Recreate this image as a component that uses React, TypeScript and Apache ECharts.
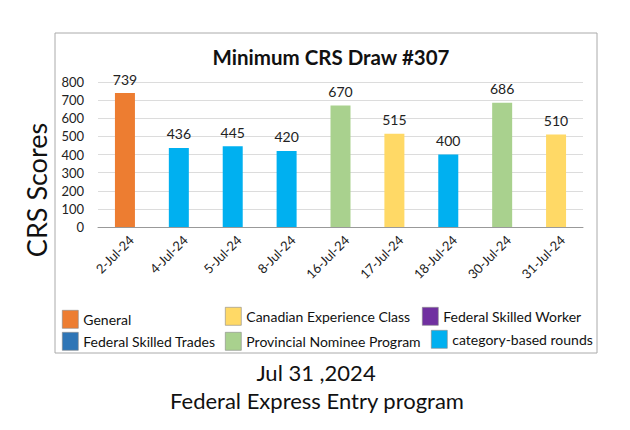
import React, { useEffect, useRef } from "react";
import * as echarts from "echarts";

const categories = ["2-Jul-24", "4-Jul-24", "5-Jul-24", "8-Jul-24", "16-Jul-24", "17-Jul-24", "18-Jul-24", "30-Jul-24", "31-Jul-24"];
const scores = [739, 436, 445, 420, 670, 515, 400, 686, 510];
const drawTypes = ["General", "category-based rounds", "category-based rounds", "category-based rounds", "Provincial Nominee Program", "Canadian Experience Class", "category-based rounds", "Provincial Nominee Program", "Canadian Experience Class"];
const programs = ["General", "Canadian Experience Class", "Federal Skilled Worker", "Federal Skilled Trades", "Provincial Nominee Program", "category-based rounds"];
const programColors = ["#ED7D31", "#FFD966", "#7030A0", "#2E75B6", "#A9D18E", "#00B0F0"];
const yTicks = [0, 100, 200, 300, 400, 500, 600, 700, 800];

const FONT = "Lato, 'Open Sans', sans-serif";

export default function App() {
  const ref = useRef<HTMLDivElement>(null);
  useEffect(() => {
    if (!ref.current) return;
    const chart = echarts.init(ref.current, undefined, { renderer: "svg" });
    const series = programs.map((p, i) => ({
      name: p,
      type: "bar",
      stack: "all",
      barWidth: 20,
      itemStyle: { color: programColors[i] },
      label: {
        show: true,
        position: "top",
        distance: 7,
        color: "#222",
        fontSize: 14,
        fontFamily: FONT,
      },
      data: scores.map((v, k) => (drawTypes[k] === p ? v : "-")),
    }));
    const legendPos = [
      [62, 310],
      [225, 307],
      [422, 307],
      [62, 332],
      [225, 332],
      [431, 330],
    ];
    const legends = programs.map((p, i) => ({
      data: [p],
      left: legendPos[i][0],
      top: legendPos[i][1],
      padding: 0,
      itemWidth: 16,
      itemHeight: 18,
      itemGap: 4,
      icon: "rect",
      selectedMode: false,
      itemStyle: { borderColor: "#888", borderWidth: 0.6 },
      textStyle: { fontSize: 14, color: "#111", fontFamily: FONT, padding: [0, 0, 0, 0] },
    }));
    chart.setOption({
      animation: false,
      backgroundColor: "#fff",
      title: {
        text: "Minimum CRS Draw #307",
        left: 326,
        textAlign: "center",
        top: 41,
        textStyle: { fontSize: 20.5, fontWeight: "bold", color: "#111", fontFamily: FONT },
      },
      legend: legends,
      grid: { left: 98, right: 47, top: 82, bottom: 203 },
      xAxis: {
        type: "category",
        data: categories,
        axisLine: { lineStyle: { color: "#999" } },
        axisTick: { show: false },
        axisLabel: { rotate: 45, fontSize: 13, color: "#222", fontFamily: FONT, margin: 17, padding: [0, -9, 0, 0] },
      },
      yAxis: {
        type: "value",
        min: yTicks[0],
        max: yTicks[yTicks.length - 1],
        interval: 100,
        axisLine: { show: false },
        axisTick: { show: false },
        axisLabel: { fontSize: 13, color: "#222", fontFamily: FONT, margin: 14 },
        splitLine: { lineStyle: { color: "#dcdcdc" } },
      },
      graphic: [
        {
          type: "rect",
          shape: { x: 55, y: 33, width: 542, height: 320 },
          style: { fill: "none", stroke: "#aaa", lineWidth: 1 },
          silent: true,
          z: -1,
        },
        {
          type: "text",
          x: 36,
          y: 190,
          rotation: Math.PI / 2,
          style: { text: "CRS Scores", fontSize: 27, fill: "#111", fontFamily: FONT, align: "center", verticalAlign: "middle" },
        },
        {
          type: "text",
          x: 316,
          y: 372,
          style: { text: "Jul 31 ,2024", fontSize: 22, fill: "#111", fontFamily: FONT, align: "center", verticalAlign: "middle" },
        },
        {
          type: "text",
          x: 317,
          y: 400,
          style: { text: "Federal Express Entry program", fontSize: 22, fill: "#111", fontFamily: FONT, align: "center", verticalAlign: "middle" },
        },
      ],
      series,
    });
    return () => chart.dispose();
  }, []);
  return <div ref={ref} style={{ position: "fixed", left: 0, top: 0, width: 630, height: 430 }} />;
}
